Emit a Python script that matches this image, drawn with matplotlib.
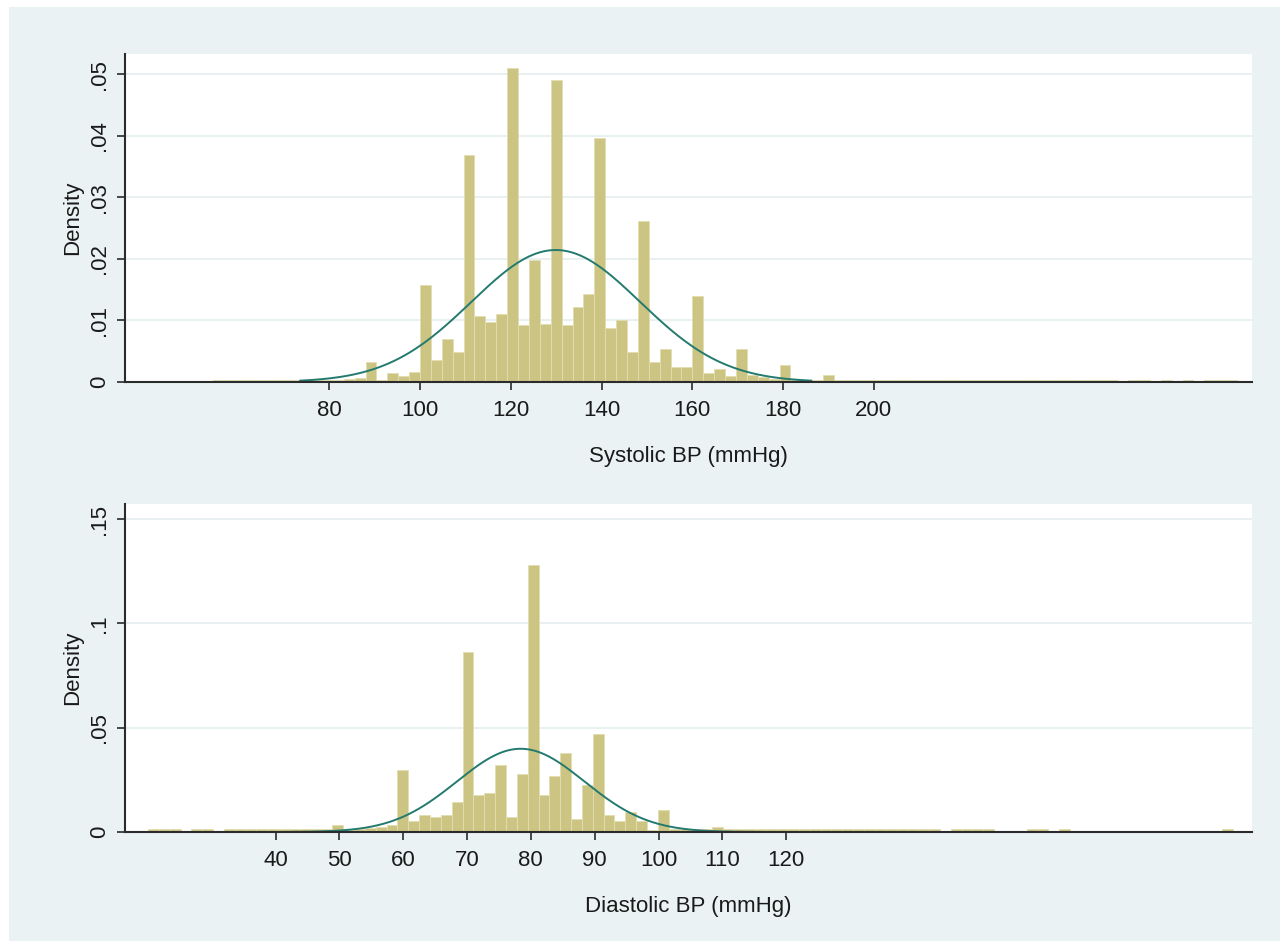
import numpy as np
import matplotlib
matplotlib.use('Agg')
import matplotlib.pyplot as plt
from matplotlib.patches import Rectangle

plt.rcParams['font.family'] = ['Liberation Sans', 'DejaVu Sans']

# systolic histogram: bins of 2.4 mmHg starting at 54.4
sbp_start = 54.4
sbp_width = 2.4
sbp_density = [
    0.0004, 0.0004, 0.0004, 0.0004, 0.0004, 0.0004, 0.0004, 0.0004,
    0.0004, 0.0004, 0.0004, 0.0004, 0.0005, 0.0006,
    0.0032, 0.0003, 0.0015, 0.0010, 0.0017,
    0.0157, 0.0035, 0.0070, 0.0049,
    0.0369, 0.0108, 0.0098, 0.0111,
    0.0511, 0.0092, 0.0199, 0.0095,
    0.0490, 0.0092, 0.0122, 0.0143,
    0.0397, 0.0088, 0.0101, 0.0049,
    0.0261, 0.0032, 0.0053, 0.0024, 0.0024,
    0.0140, 0.0015, 0.0021, 0.0010,
    0.0053, 0.0012, 0.0008, 0.0005,
    0.0028, 0.0004, 0.0004, 0.0004,
    0.0011,
    0.0004, 0.0004, 0.0004, 0.0004, 0.0004, 0.0004, 0.0004, 0.0004, 0.0004,
    0.0004, 0.0004, 0.0004, 0.0004, 0.0004, 0.0004, 0.0004, 0.0004, 0.0004,
    0.0004, 0.0004, 0.0004, 0.0004, 0.0004, 0.0004, 0.0004, 0.0004,
    0.0, 0.0004, 0.0004, 0.0, 0.0004, 0.0, 0.0004, 0.0, 0.0004, 0.0004, 0.0004,
]
sbp_mean = 129.9
sbp_sd = 18.6
sbp_curve_range = (73.6, 186.2)
sbp_xticks = [80, 100, 120, 140, 160, 180, 200]
sbp_yticks = [0, 0.01, 0.02, 0.03, 0.04, 0.05]
sbp_ylabels = ['0', '.01', '.02', '.03', '.04', '.05']

# diastolic histogram: bins of 1.7 mmHg starting at 20
dbp_start = 20.0
dbp_width = 1.7
dbp_density = [
    0.0012, 0.0012, 0.0012, 0.0, 0.0012, 0.0012, 0.0,
    0.0012, 0.0012, 0.0012, 0.0012, 0.0012, 0.0012,
    0.0012, 0.0012, 0.0012, 0.0012,
    0.0035, 0.0010, 0.0014, 0.0019, 0.0024, 0.0032,
    0.0299, 0.0051, 0.0083, 0.0072, 0.0083, 0.0144,
    0.0861, 0.0176, 0.0186, 0.0320, 0.0072, 0.0278,
    0.1280, 0.0176, 0.0267, 0.0379, 0.0062, 0.0227,
    0.0472, 0.0083, 0.0051, 0.0094, 0.0051, 0.0008,
    0.0104, 0.0015, 0.0012, 0.0012, 0.0012, 0.0022, 0.0012,
    0.0012, 0.0012, 0.0012, 0.0012, 0.0012, 0.0012, 0.0012, 0.0012, 0.0012, 0.0012,
    0.0012, 0.0012, 0.0012, 0.0012, 0.0012, 0.0012, 0.0012, 0.0012, 0.0012,
    0.0, 0.0012, 0.0012, 0.0012, 0.0012, 0.0, 0.0, 0.0, 0.0012, 0.0012, 0.0, 0.0012,
    0.0, 0.0, 0.0, 0.0, 0.0, 0.0, 0.0, 0.0, 0.0, 0.0, 0.0, 0.0, 0.0, 0.0,
    0.0012,
]
dbp_mean = 78.4
dbp_sd = 10.0
dbp_curve_range = (41.6, 115.6)
dbp_xticks = [40, 50, 60, 70, 80, 90, 100, 110, 120]
dbp_yticks = [0, 0.05, 0.1, 0.15]
dbp_ylabels = ['0', '.05', '.1', '.15']

bg = '#eaf2f3'
bar_col = '#ccc482'
line_col = '#237a6f'

fig = plt.figure(figsize=(12.8, 9.41), dpi=100)
fig.patch.set_facecolor('white')
fig.add_artist(Rectangle((9 / 1280, 0), 1, 1 - 7 / 941, transform=fig.transFigure,
                         facecolor=bg, edgecolor='none', zorder=-10))


def draw_panel(rect, start, width, dens, mean, sd, crange, xlim, ylim,
               xticks, yticks, ylabels, xlabel):
    ax = fig.add_axes(rect)
    ax.set_facecolor('white')
    edges = start + width * np.arange(len(dens))
    ax.bar(edges, dens, width=width, align='edge', color=bar_col,
           edgecolor='#e3ddb0', linewidth=0.6, zorder=2)
    xs = np.linspace(crange[0], crange[1], 300)
    ys = np.exp(-0.5 * ((xs - mean) / sd) ** 2) / (sd * np.sqrt(2 * np.pi))
    ax.plot(xs, ys, color=line_col, lw=1.4, zorder=3)
    ax.set_xlim(xlim)
    ax.set_ylim(ylim)
    ax.set_xticks(xticks)
    ax.set_xticklabels([str(t) for t in xticks])
    ax.set_yticks(yticks)
    ax.set_yticklabels(ylabels, rotation=90, va='center')
    for s in ['top', 'right']:
        ax.spines[s].set_visible(False)
    for s in ['left', 'bottom']:
        ax.spines[s].set_color('#2b2b2b')
        ax.spines[s].set_linewidth(1.5)
        ax.spines[s].set_zorder(4)
    ax.tick_params(axis='both', direction='out', length=6, width=1.2,
                   color='#2b2b2b', labelsize=16, labelcolor='#1a1a1a')
    ax.tick_params(axis='x', pad=7)
    ax.tick_params(axis='y', pad=5)
    ax.grid(axis='y', color='#e3ecef', lw=1.1, zorder=0)
    ax.set_axisbelow(True)
    ax.set_xlabel(xlabel, fontsize=16, labelpad=18, color='#1a1a1a')
    ax.set_ylabel('Density', fontsize=16, labelpad=4, color='#1a1a1a')
    return ax


left = 125 / 1280
w = 1127 / 1280
h = 328 / 941
draw_panel([left, 1 - 382 / 941, w, h], sbp_start, sbp_width, sbp_density,
           sbp_mean, sbp_sd, sbp_curve_range, (35.0, 283.3), (0, 0.0533),
           sbp_xticks, sbp_yticks, sbp_ylabels, 'Systolic BP (mmHg)')
draw_panel([left, 1 - 832 / 941, w, h], dbp_start, dbp_width, dbp_density,
           dbp_mean, dbp_sd, dbp_curve_range, (16.4, 193.0), (0, 0.1572),
           dbp_xticks, dbp_yticks, dbp_ylabels, 'Diastolic BP (mmHg)')

plt.savefig('out.png', dpi=100, facecolor=fig.get_facecolor())
